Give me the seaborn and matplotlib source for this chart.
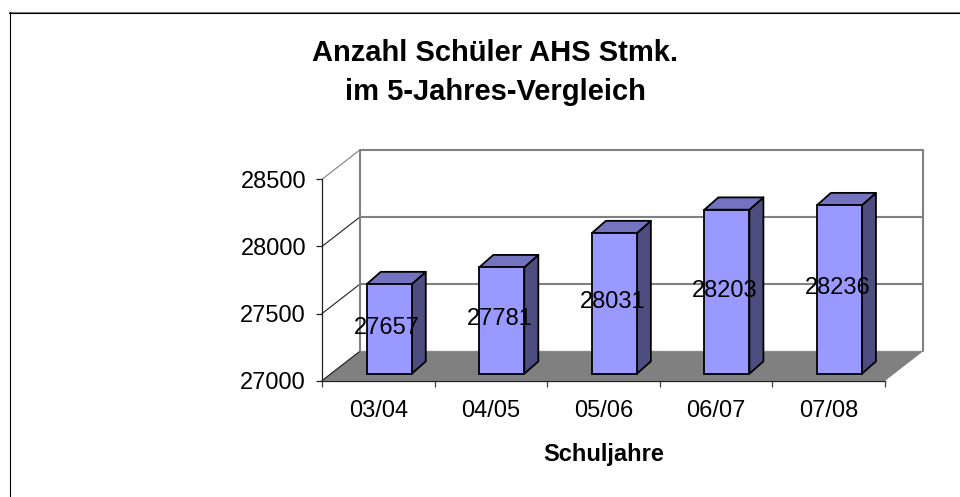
import seaborn as sns
import matplotlib.pyplot as plt
import numpy as np
from matplotlib.lines import Line2D
from matplotlib.patches import Polygon
from matplotlib.transforms import IdentityTransform

# Chart data
years = ['03/04', '04/05', '05/06', '06/07', '07/08']
students = [27657, 27781, 28031, 28203, 28236]
y_ticks = [27000, 27500, 28000, 28500]

W, H = 960, 497
GREY = '#808080'
PX = IdentityTransform()

sns.set_theme(style='white')
plt.rcParams['font.family'] = ['Liberation Sans', 'DejaVu Sans']


def place(fig, left, right, top, bottom):
    # axes position from pixel coordinates measured from the top left corner
    return fig.add_axes([left / W, 1 - bottom / H, (right - left) / W, (bottom - top) / H])


def corner(ax, x, y, dx=0, dy=0):
    # data point in display pixels, pushed back by the 3D depth
    px, py = ax.transData.transform((x, y))
    return px + dx, py + dy


fig = plt.figure(figsize=(W / 100, H / 100), dpi=100, facecolor='white')

# Outer frame, only top and left are in the picture
fig.add_artist(Line2D([9 / W, 1], [1 - 11.5 / H] * 2, color=GREY, lw=0.8))
fig.add_artist(Line2D([9 / W, 1], [1 - 12.5 / H] * 2, color='black', lw=0.8))
fig.add_artist(Line2D([9.5 / W] * 2, [0, 1 - 12 / H], color='black', lw=0.8))

# Front plane: holds the axes, ticks and labels
ax = place(fig, 322, 884.7, 179.3, 380.7)
ax.set_xlim(-0.5, len(years) - 0.5)
ax.set_ylim(y_ticks[0], y_ticks[-1])
ax.patch.set_visible(False)
for side in ['top', 'right']:
    ax.spines[side].set_visible(False)
for side in ['left', 'bottom']:
    ax.spines[side].set_color('#202020')
    ax.spines[side].set_linewidth(0.9)

ax.set_yticks(y_ticks)
ax.set_xticks(range(len(years)), labels=years)
ax.set_xticks(np.arange(len(years) + 1) - 0.5, minor=True)
ax.tick_params(axis='y', left=True, length=4, width=0.9, color='#202020', pad=7.5, labelsize=17, labelcolor='black')
ax.tick_params(axis='x', which='major', bottom=False, pad=8, labelsize=17, labelcolor='black')
ax.tick_params(axis='x', which='minor', bottom=True, length=4.5, width=0.9, color='#404040')
ax.set_xlabel('Schuljahre', fontsize=17, fontweight='bold', labelpad=15, color='black')

# Walls and floor
back = (38, 29.5)
x0, x1 = ax.get_xlim()
y0, y1 = ax.get_ylim()
ax.add_patch(Polygon([corner(ax, x0, y0), corner(ax, x1, y0), corner(ax, x1, y0, *back), corner(ax, x0, y0, *back)],
                     closed=True, transform=PX, facecolor=GREY, edgecolor=GREY, lw=0.5, clip_on=False, zorder=1))
for tick in y_ticks:
    p_front = corner(ax, x0, tick)
    p_left = corner(ax, x0, tick, *back)
    p_right = corner(ax, x1, tick, *back)
    side_col = GREY if tick == y_ticks[-1] else '#202020'
    ax.add_line(Line2D(*zip(p_front, p_left), transform=PX, color=side_col, lw=0.8, clip_on=False, zorder=1.5))
    if tick > y_ticks[0]:
        ax.add_line(Line2D(*zip(p_left, p_right), transform=PX, color=GREY, lw=1.5, clip_on=False, zorder=1.5))
for x_end in [x0, x1]:
    ax.add_line(Line2D(*zip(corner(ax, x_end, y0, *back), corner(ax, x_end, y1, *back)),
                       transform=PX, color=GREY, lw=1.5, clip_on=False, zorder=1.5))

# Bars sit a little inside the floor, so they get their own axes
ax2 = place(fig, 333, 895.7, 169.2, 373.7)
sns.barplot(x=years, y=students, ax=ax2, width=0.4, color='#9999FF', saturation=1,
            edgecolor='black', linewidth=1.3, zorder=3)
ax2.set_xlim(x0, x1)
ax2.set_ylim(y0, y1)
ax2.axis('off')

side = (14, 12.3)
for bar, value in zip(ax2.patches, students):
    bar.set_y(y0)
    bar.set_height(value - y0)
    bar.set_clip_on(False)
    left, right = bar.get_x(), bar.get_x() + bar.get_width()
    ax2.add_patch(Polygon([corner(ax2, right, y0), corner(ax2, right, y0, *side),
                           corner(ax2, right, value, *side), corner(ax2, right, value)],
                          closed=True, transform=PX, facecolor='#4D4D80', edgecolor='black',
                          lw=1.3, joinstyle='round', clip_on=False, zorder=2.5))
    ax2.add_patch(Polygon([corner(ax2, left, value), corner(ax2, right, value),
                           corner(ax2, right, value, *side), corner(ax2, left, value, *side)],
                          closed=True, transform=PX, facecolor='#7373BF', edgecolor='black',
                          lw=1.3, joinstyle='round', clip_on=False, zorder=2.5))

# Value labels
for i, value in enumerate(students):
    ax2.annotate(str(value), (i, (value + y0) / 2), xytext=(-2, 1), textcoords='offset pixels',
                 ha='center', va='center', fontsize=17, color='black', zorder=5, annotation_clip=False)

fig.text(495.5 / W, 1 - 72.5 / H, 'Anzahl Schüler AHS Stmk.\nim 5-Jahres-Vergleich', ha='center', va='center',
         fontsize=21, fontweight='bold', color='black', linespacing=1.5)

plt.savefig('out.png', dpi=100)
